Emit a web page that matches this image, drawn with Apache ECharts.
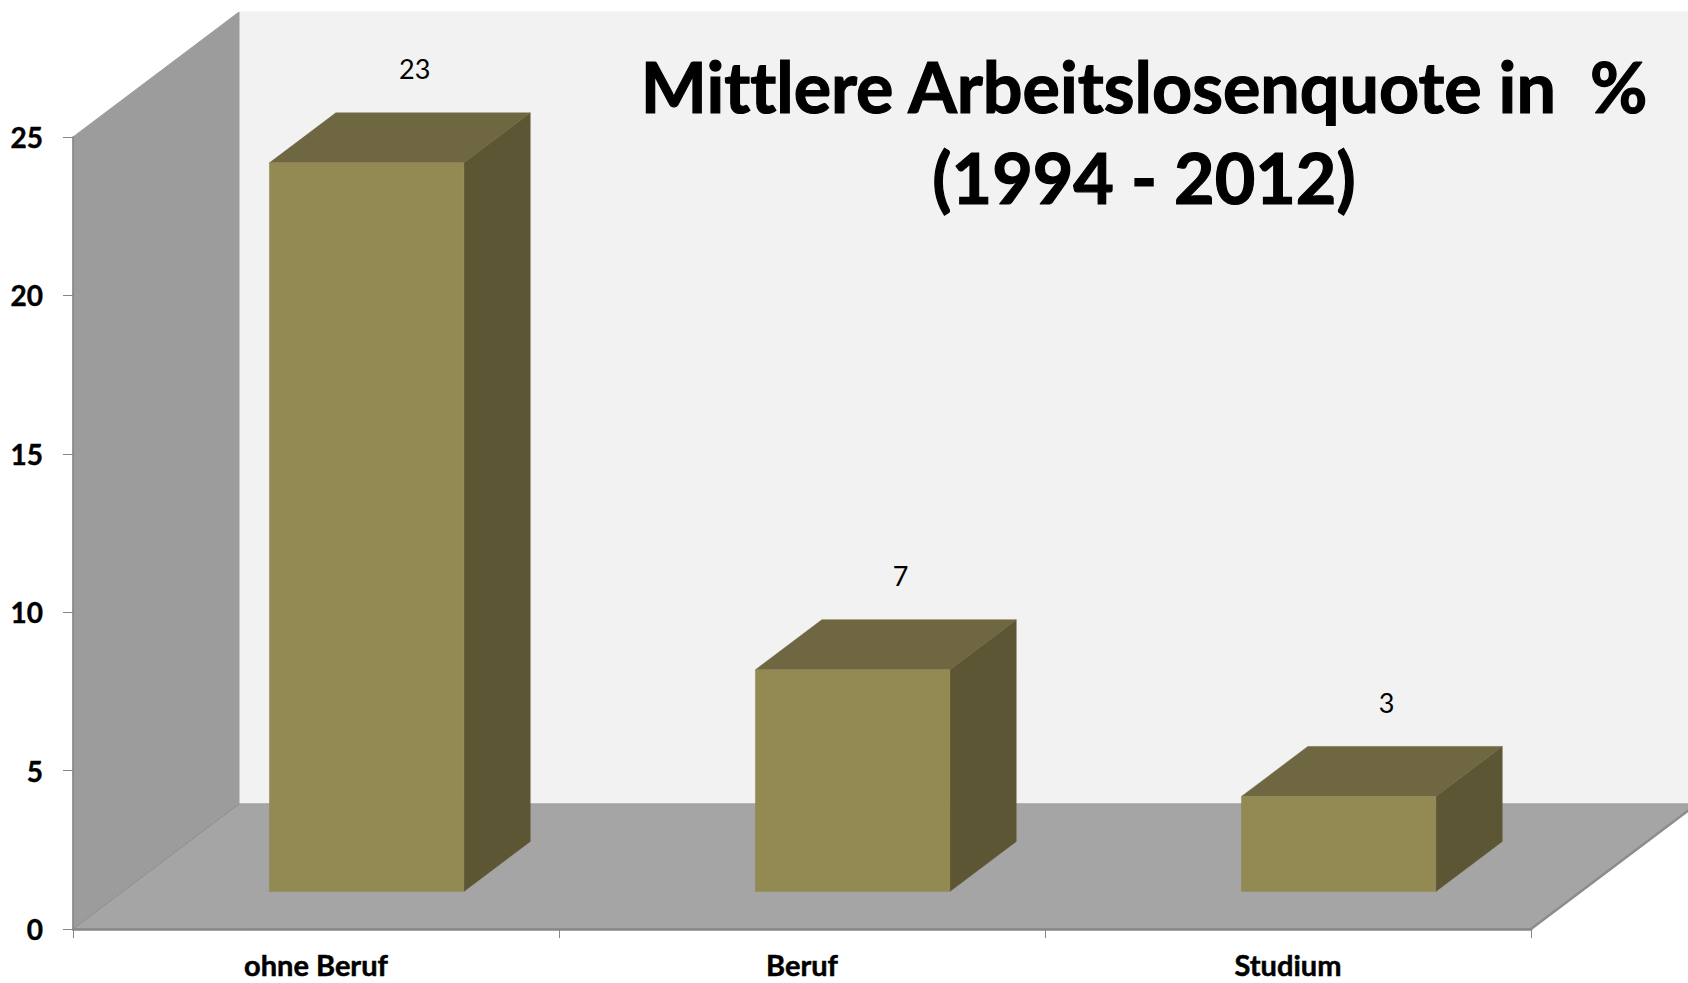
<!DOCTYPE html>
<html><head><meta charset="utf-8">
<style>html,body{margin:0;padding:0;background:#fff}#c{width:1688px;height:983px}text{font-variant-ligatures:none}</style>
<script src="https://cdn.jsdelivr.net/npm/echarts@6/dist/echarts.min.js"></script>
</head><body><div id="c"></div>
<script>
const categories = ['ohne Beruf', 'Beruf', 'Studium'];
const values = [23, 7, 3];
const yMax = 25;
const yTicks = 5;
const titleText = 'Mittlere Arbeitslosenquote in  %\n(1994 - 2012)';

const depth = {x: 166, y: 125};
const front = {x: 0.305, y: 0.3}, span = 0.4, barFrac = 0.4;
const colors = {front:'#938953', top:'#6f6741', side:'#5d5634', wall:'#9c9c9c', floor:'#a5a5a5', backWall:'#f2f2f2', line:'#868686'};
const font = 'Lato';

function poly(points, fill, stroke, lw){
  return {type:'polygon', shape:{points}, style:{fill, stroke: stroke||fill, lineWidth: lw==null?1:lw}};
}
function renderWalls(params, api){
  const o = api.coord([0, 0]);
  const band = api.size([1, 0])[0];
  const x0 = o[0] - band/2, y0 = o[1];
  const yT = api.coord([0, yMax])[1];
  const x1 = x0 + band*categories.length;
  const dx = depth.x, dy = depth.y;
  return {type:'group', children:[
    poly([[x0+dx,yT-dy],[x1+dx,yT-dy],[x1+dx,y0-dy],[x0+dx,y0-dy]], colors.backWall),
    poly([[x0,yT],[x0+dx,yT-dy],[x0+dx,y0-dy],[x0,y0]], colors.wall),
    poly([[x0,y0],[x1,y0],[x1+dx,y0-dy],[x0+dx,y0-dy]], colors.floor),
    {type:'line', shape:{x1:x0+dx,y1:y0-dy,x2:x1+dx,y2:y0-dy}, style:{stroke:'#a0a0a0',lineWidth:1}},
    {type:'line', shape:{x1:x0,y1:y0,x2:x0+dx,y2:y0-dy}, style:{stroke:'#8c8c8c',lineWidth:1}},
    {type:'line', shape:{x1:x1,y1:y0,x2:x1+dx,y2:y0-dy}, style:{stroke:'#8c8c8c',lineWidth:2.5}}
  ]};
}
function renderBar(params, api){
  const idx = api.value(0), v = api.value(1);
  const c = api.coord([idx, v]), b = api.coord([idx, 0]);
  const w = api.size([1, 0])[0]*barFrac;
  const fx = depth.x*front.x, fy = depth.y*front.y;
  const sx = depth.x*span, sy = depth.y*span;
  const l = c[0]-w/2+fx, r = c[0]+w/2+fx, t = c[1]-fy, bt = b[1]-fy;
  return {type:'group', children:[
    poly([[r,t],[r+sx,t-sy],[r+sx,bt-sy],[r,bt]], colors.side, colors.side, 0.5),
    poly([[l,t],[l+sx,t-sy],[r+sx,t-sy],[r,t]], colors.top, colors.top, 0.5),
    poly([[l,t],[r,t],[r,bt],[l,bt]], colors.front, colors.front, 0.5),
    {type:'text', x:c[0]+fx+48, y:t-94, style:{text:String(v), fill:'#000', font:'27px '+font, align:'center', verticalAlign:'middle'}}
  ]};
}
const chart = echarts.init(document.getElementById('c'), null, {renderer:'svg'});
chart.setOption({
  animation:false,
  backgroundColor:'#fff',
  title:{text:titleText, left:1139, top:35, textAlign:'center',
    textStyle:{fontFamily:font,fontWeight:'bold',fontSize:70,lineHeight:91,color:'#000',textBorderColor:'#000',textBorderWidth:1.2}},
  grid:{left:73, right:157, top:137, bottom:54},
  xAxis:{type:'category', data:categories, z:5,
    axisLine:{show:true,lineStyle:{color:colors.line,width:2.5}},
    axisTick:{show:true,alignWithLabel:false,length:9,lineStyle:{color:colors.line,width:1}},
    axisLabel:{color:'#000',fontFamily:font,fontWeight:'bold',fontSize:29,margin:21,textBorderColor:'#000',textBorderWidth:0.5}},
  yAxis:{type:'value', min:0, max:yMax, interval:yTicks, z:5, splitLine:{show:false},
    axisLine:{show:true,lineStyle:{color:colors.line,width:1.5}},
    axisTick:{show:true,length:10,lineStyle:{color:colors.line,width:1}},
    axisLabel:{color:'#000',fontFamily:font,fontWeight:'bold',fontSize:28,margin:30,textBorderColor:'#000',textBorderWidth:0.4}},
  series:[
    {type:'custom', renderItem:renderWalls, data:[[0,0]], z:1, clip:false, silent:true},
    {type:'custom', renderItem:renderBar, data:values.map((v,i)=>[i,v]), z:2, clip:false, encode:{x:0,y:1}}
  ]
});
</script></body></html>
